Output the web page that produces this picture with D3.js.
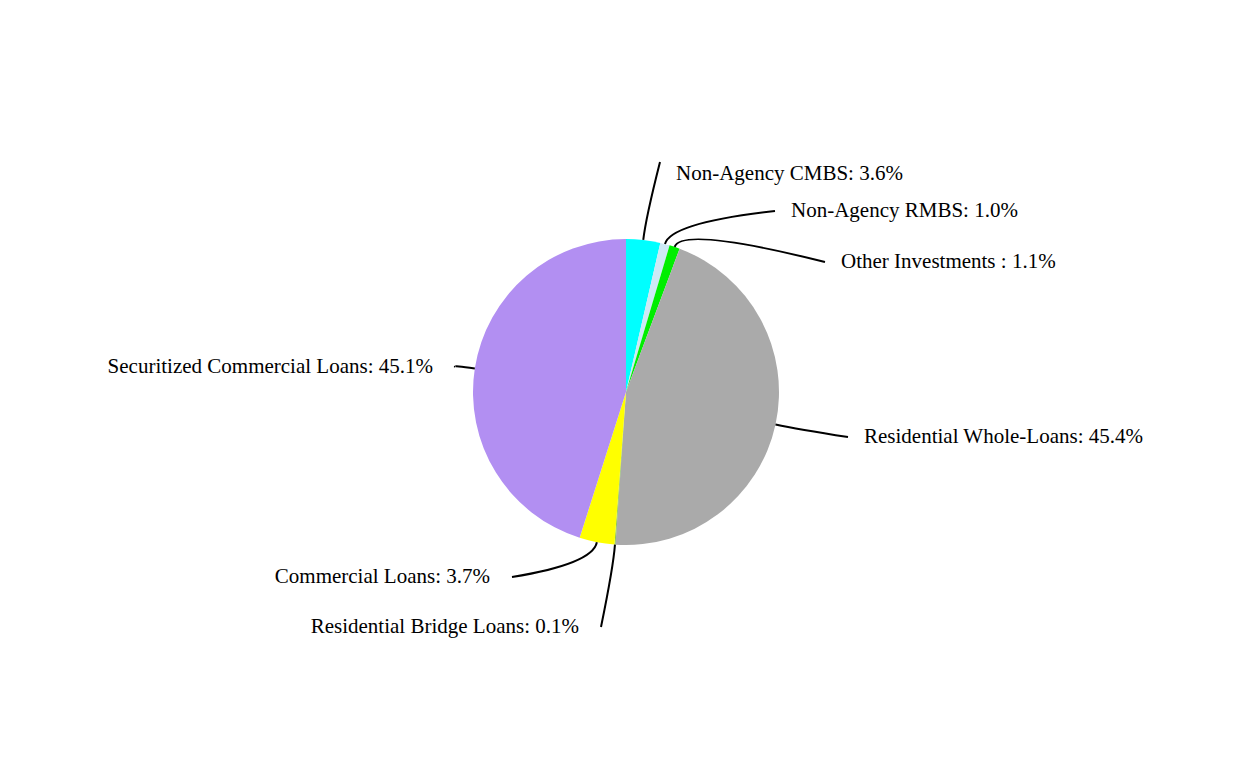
<!DOCTYPE html>
<html><head><meta charset="utf-8">
<script src="https://cdn.jsdelivr.net/npm/d3@7"></script>
<style>body{margin:0;background:#fff}text{font-family:"Liberation Serif","Times New Roman",serif;font-size:21px}</style>
</head><body><div id="plot"></div>
<script>
var labels = ["Non-Agency CMBS", "Non-Agency RMBS", "Other Investments ", "Residential Whole-Loans", "Residential Bridge Loans", "Commercial Loans", "Securitized Commercial Loans"];
var values = [3.6, 1.0, 1.1, 45.4, 0.1, 3.7, 45.1];
var colors = ["#00ffff", "#cde9f5", "#00ee00", "#aaaaaa", "#7fbf3f", "#ffff00", "#b28ff2"];
// where each leader line ends, and which side the text sits
var labelEnds = [[660, 162], [775, 211], [825, 262], [848, 437], [601, 627], [512, 577], [455, 367]];
var labelSide = ["right", "right", "right", "right", "left", "left", "left"];

var width = 1252, height = 784, cx = 626, cy = 392, r = 153;

var svg = d3.select("#plot").append("svg").attr("width", width).attr("height", height);
var g = svg.append("g").attr("transform", "translate(" + cx + "," + cy + ")");

var data = labels.map(function(d, i) { return {label: d, value: values[i], i: i}; });
var pie = d3.pie().sort(null).value(function(d) { return d.value; });
var arc = d3.arc().innerRadius(0).outerRadius(r);
var arcs = pie(data);

g.selectAll("path.slice").data(arcs).enter().append("path")
	.attr("class", "slice")
	.attr("d", arc)
	.style("fill", function(d) { return colors[d.data.i]; });

g.selectAll("path.leader").data(arcs).enter().append("path")
	.attr("class", "leader")
	.attr("d", function(d) {
		var a = (d.startAngle + d.endAngle) / 2;
		var sx = r * Math.sin(a), sy = -r * Math.cos(a);
		var kx = (r + 22) * Math.sin(a), ky = -(r + 22) * Math.cos(a);
		var e = labelEnds[d.data.i];
		return "M" + sx + "," + sy + "Q" + kx + "," + ky + " " + (e[0] - cx) + "," + (e[1] - cy);
	})
	.style("fill", "none").style("stroke", "#000").style("stroke-width", 2);

g.selectAll("text").data(arcs).enter().append("text")
	.attr("x", function(d) { var e = labelEnds[d.data.i]; return e[0] - cx + (labelSide[d.data.i] == "right" ? 16 : -22); })
	.attr("y", function(d) { return labelEnds[d.data.i][1] - cy + 6; })
	.attr("dy", function(d) { return d.data.i == 0 ? 12 : 0; })
	.attr("text-anchor", function(d) { return labelSide[d.data.i] == "right" ? "start" : "end"; })
	.text(function(d) { return d.data.label + ": " + d.data.value.toFixed(1) + "%"; });
</script></body></html>
